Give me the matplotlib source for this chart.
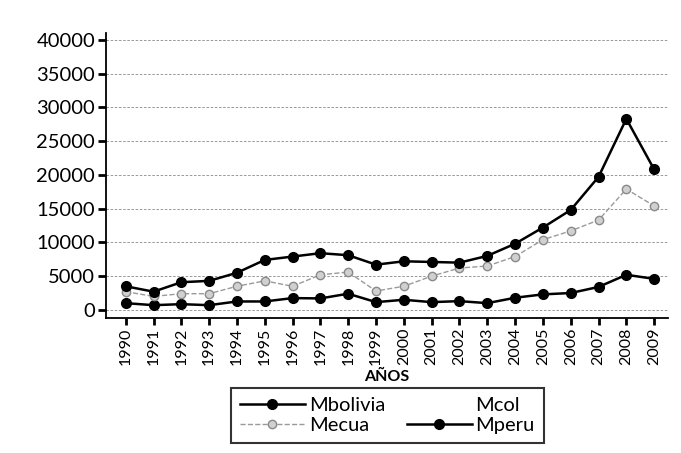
import matplotlib
matplotlib.use("Agg")
import matplotlib.pyplot as plt
from matplotlib.lines import Line2D

plt.rcParams['font.family'] = ['Lato', 'DejaVu Sans']

years = list(range(1990, 2010))
year_labels = [str(y) for y in years]

# values
mbolivia = [1000, 700, 850, 700, 1250, 1250, 1750, 1700, 2400, 1150,
            1500, 1150, 1300, 1000, 1800, 2300, 2500, 3400, 5200, 4600]
mecua = [2700, 2000, 2400, 2400, 3500, 4300, 3500, 5200, 5600, 2800,
         3500, 5000, 6200, 6500, 7900, 10400, 11700, 13300, 17900, 15400]
mperu = [3500, 2700, 4100, 4300, 5500, 7400, 7900, 8400, 8100, 6700,
         7200, 7100, 7000, 8000, 9800, 12200, 14800, 19700, 28300, 20800]
yticks = [0, 5000, 10000, 15000, 20000, 25000, 30000, 35000, 40000]

fig = plt.figure(figsize=(6.81, 4.53), dpi=100)
ax = fig.add_axes([0.156, 0.298, 0.825, 0.629])

ax.plot(years, mbolivia, color='black', lw=1.8, marker='o', ms=7, zorder=3)
ax.plot(years, mecua, color='#9a9a9a', lw=1.0, ls='--', marker='o', ms=6,
        mfc='#d0d0d0', mec='#8a8a8a', mew=1.0, zorder=3)
ax.plot(years, mperu, color='black', lw=1.8, marker='o', ms=7, zorder=3)

ax.set_xlim(1989.3, 2009.5)
ax.set_ylim(-1200, 41000)
ax.set_yticks(yticks)
ax.set_yticklabels([str(v) for v in yticks], fontsize=14.5)
ax.set_xticks(years)
ax.set_xticklabels(year_labels, rotation=90, fontsize=11.5)
ax.yaxis.grid(True, ls=(0, (3, 2)), color='#888888', lw=0.6)
ax.set_axisbelow(True)

for s in ['top', 'right']:
    ax.spines[s].set_visible(False)
for s in ['left', 'bottom']:
    ax.spines[s].set_linewidth(1.3)
ax.tick_params(axis='y', length=6, width=2, pad=2)
ax.tick_params(axis='x', length=5, width=2, pad=2)

ax.set_xlabel('AÑOS', fontsize=11.5, fontweight='bold', labelpad=3)

handles = [
    Line2D([], [], color='black', lw=1.8, marker='o', ms=7),
    Line2D([], [], color='#9a9a9a', lw=1.0, ls='--', marker='o', ms=6,
           mfc='#d0d0d0', mec='#8a8a8a'),
    Line2D([], [], color='white', lw=0),
    Line2D([], [], color='black', lw=1.8, marker='o', ms=7),
]
leg = fig.legend(handles, ['Mbolivia', 'Mecua', 'Mcol', 'Mperu'], ncol=2,
                 loc='center', bbox_to_anchor=(0.569, 0.083), fontsize=14.5,
                 frameon=True, fancybox=False, edgecolor='black',
                 handlelength=3.2, columnspacing=1.1, labelspacing=0.15,
                 borderpad=0.45, handletextpad=0.2)
leg.get_frame().set_linewidth(1.5)

fig.savefig('out.png', dpi=100)
